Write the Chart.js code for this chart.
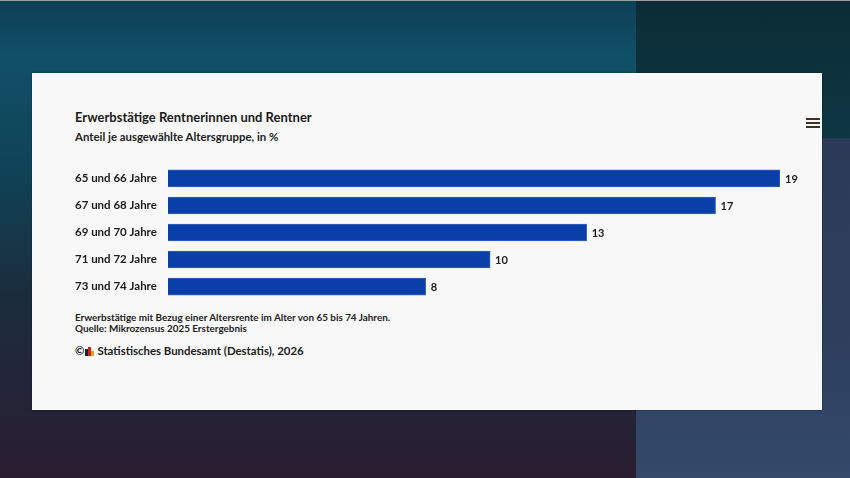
<!DOCTYPE html>
<html>
<head>
<meta charset="utf-8">
<script src="https://cdn.jsdelivr.net/npm/chart.js@4.4.1/dist/chart.umd.min.js"></script>
<style>
  html, body { margin: 0; padding: 0; }
  body {
    width: 850px; height: 478px; overflow: hidden; position: relative;
    background: linear-gradient(180deg, #0e3f55 0%, #115069 12%, #0f4357 35%, #1b2d3d 62%, #2a1d32 100%);
    font-family: "Lato", "Open Sans", sans-serif; color: #1b1b1b;
  }
  #topline { position: absolute; left: 0; top: 0; width: 850px; height: 1px; background: #9aa0a0; }
  #rtop { position: absolute; left: 636px; top: 1px; width: 214px; height: 137px;
    background: linear-gradient(180deg, #0b2c36 0%, #0e3743 100%); }
  #rbot { position: absolute; left: 636px; top: 138px; width: 214px; height: 340px;
    background: linear-gradient(180deg, #2c3a58 0%, #2e3f5e 60%, #34496b 100%); }
  #card { position: absolute; left: 32px; top: 73px; width: 790px; height: 337px;
    background: #f8f8f8; box-shadow: 0 0 2px rgba(0,0,0,0.4); }
  .t { position: absolute; left: 43px; white-space: nowrap; }
  #title { top: 36px; font-size: 13px; font-weight: 700; }
  #sub { top: 57px; font-size: 11.4px; font-weight: 700; color: #222; }
  #note { top: 239px; font-size: 9.9px; line-height: 11px; font-weight: 700; color: #222; }
  #credit { top: 271px; font-size: 11.4px; font-weight: 700; color: #222; }
  .logo { display: inline-block; width: 10px; height: 9px; position: relative; vertical-align: -1px; margin: 0 2px 0 1px; }
  .logo i { position: absolute; bottom: 0; width: 3px; }
  #menu { position: absolute; left: 774px; top: 45px; width: 14px; }
  #menu div { height: 2px; background: #3c3324; margin-bottom: 2px; }
  #wrap { position: absolute; left: 43px; top: 85px; width: 747px; height: 149px; }
</style>
</head>
<body>
<div id="topline"></div>
<div id="rtop"></div>
<div id="rbot"></div>
<div id="card">
  <div class="t" id="title">Erwerbstätige Rentnerinnen und Rentner</div>
  <div class="t" id="sub">Anteil je ausgewählte Altersgruppe, in %</div>
  <div id="menu"><div></div><div></div><div></div></div>
  <div id="wrap"><canvas id="chart"></canvas></div>
  <div class="t" id="note">Erwerbstätige mit Bezug einer Altersrente im Alter von 65 bis 74 Jahren.<br>Quelle: Mikrozensus 2025 Erstergebnis</div>
  <div class="t" id="credit">©<span class="logo"><i style="left:0;height:7px;background:#222"></i><i style="left:3px;height:9px;background:#d21f1f"></i><i style="left:6px;height:5px;background:#e0a81c"></i></span>Statistisches Bundesamt (Destatis), 2026</div>
</div>
<script>
var categories = ["65 und 66 Jahre", "67 und 68 Jahre", "69 und 70 Jahre", "71 und 72 Jahre", "73 und 74 Jahre"];
var shares = [19, 17, 13, 10, 8];

// value labels at the end of each bar
var valueLabels = {
  id: "valueLabels",
  afterDatasetsDraw: function (chart) {
    var ctx = chart.ctx;
    var meta = chart.getDatasetMeta(0);
    ctx.save();
    ctx.font = "700 11px Lato, 'Open Sans', sans-serif";
    ctx.fillStyle = "#1b1b1b";
    ctx.textAlign = "left";
    ctx.textBaseline = "middle";
    meta.data.forEach(function (bar, i) {
      ctx.fillText(String(shares[i]), bar.x + 5, bar.y + 1);
    });
    ctx.restore();
  },
};

new Chart(document.getElementById("chart").getContext("2d"), {
  type: "bar",
  data: {
    labels: categories,
    datasets: [
      {
        data: shares,
        backgroundColor: "#0a3fa9",
        borderColor: "#3764bd",
        borderWidth: 1,
        barThickness: 17,
      },
    ],
  },
  options: {
    indexAxis: "y",
    responsive: true,
    maintainAspectRatio: false,
    animation: false,
    layout: { padding: { top: 5, bottom: 5, left: 0, right: 42 } },
    plugins: {
      legend: { display: false },
      tooltip: { enabled: false },
    },
    scales: {
      x: {
        display: false,
        min: 0,
        max: 19,
      },
      y: {
        border: { display: false },
        grid: { display: false, drawTicks: false },
        afterFit: function (scale) {
          scale.width = 93;
        },
        ticks: {
          crossAlign: "far",
          padding: 0,
          color: "#1b1b1b",
          font: { size: 11.5, family: "Lato, 'Open Sans', sans-serif", weight: "700" },
        },
      },
    },
  },
  plugins: [valueLabels],
});
</script>
</body>
</html>
